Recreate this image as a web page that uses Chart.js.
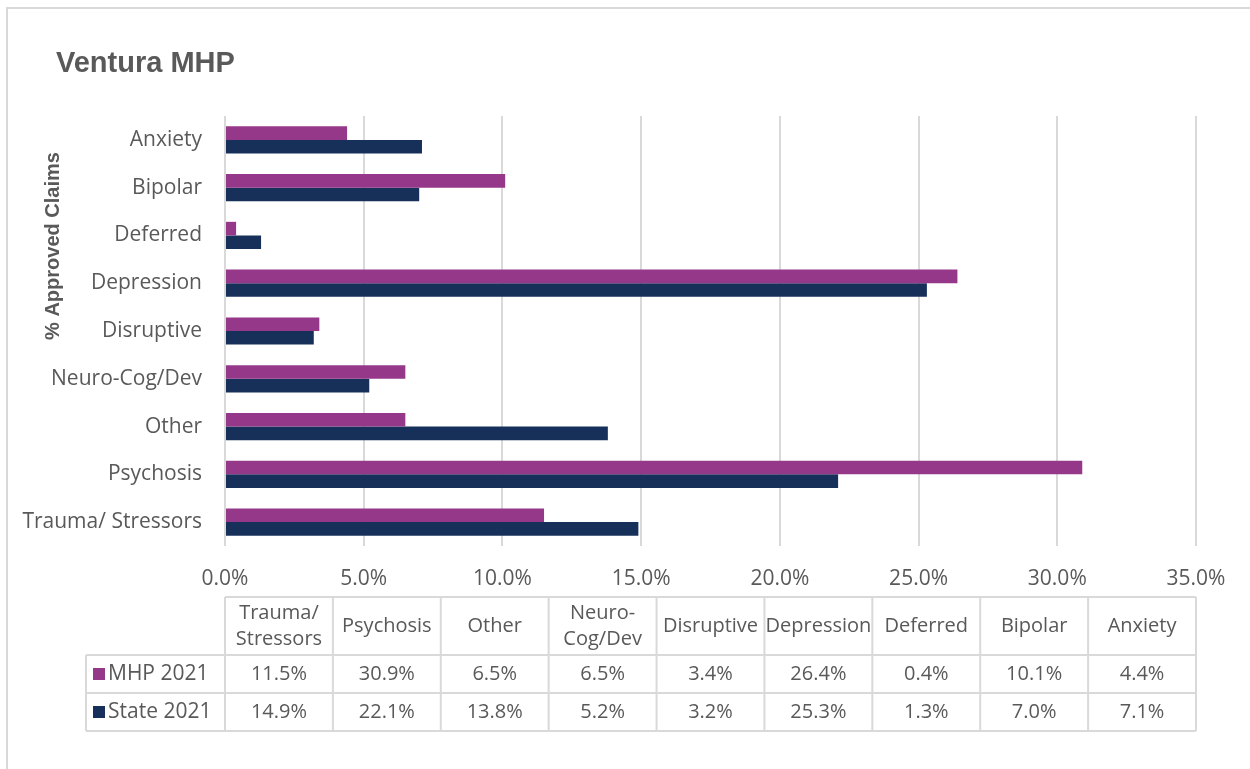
<!DOCTYPE html>
<html>
<head>
<meta charset="utf-8">
<title>Ventura MHP</title>
<script src="https://cdn.jsdelivr.net/npm/chart.js@4"></script>
<style>
    html, body { margin: 0; padding: 0; background: #fff; overflow: hidden; }
    #frame {
        position: absolute; left: 6px; top: 7px;
        width: 1400px; height: 900px;
        border: 2px solid #d9d9d9;
    }
    #wrap { position: absolute; left: 0; top: 0; width: 1250px; height: 769px; }
</style>
</head>
<body>
<div id="frame"></div>
<div id="wrap"><canvas id="chart" width="1250" height="769"></canvas></div>

<script>
// Chart data
const categories = ['Anxiety', 'Bipolar', 'Deferred', 'Depression', 'Disruptive',
    'Neuro-Cog/Dev', 'Other', 'Psychosis', 'Trauma/ Stressors'];
const mhp2021 = [4.4, 10.1, 0.4, 26.4, 3.4, 6.5, 6.5, 30.9, 11.5];
const state2021 = [7.1, 7.0, 1.3, 25.3, 3.2, 5.2, 13.8, 22.1, 14.9];
const xTicks = [0, 5, 10, 15, 20, 25, 30, 35];

// Data table below the chart (Excel lists the categories in reverse)
const tableHeaders = [['Trauma/', 'Stressors'], ['Psychosis'], ['Other'], ['Neuro-', 'Cog/Dev'],
    ['Disruptive'], ['Depression'], ['Deferred'], ['Bipolar'], ['Anxiety']];
const seriesNames = ['MHP 2021', 'State 2021'];

const MHP_COLOR = '#963889';
const STATE_COLOR = '#17305A';
const TEXT_COLOR = '#595959';
const LINE_COLOR = '#d9d9d9';
const FONT = '"Open Sans", "Noto Sans", sans-serif';

// Title, rotated axis title and data table
const decorPlugin = {
    id: 'decor',
    afterDraw(chart) {
        const ctx = chart.ctx;
        const area = chart.chartArea;
        ctx.save();

        // chart title
        ctx.fillStyle = TEXT_COLOR;
        ctx.font = 'bold 29px "Liberation Sans", Arial, sans-serif';
        ctx.textAlign = 'left';
        ctx.textBaseline = 'middle';
        ctx.fillText('Ventura MHP', 56, 64);

        // vertical axis title
        ctx.save();
        ctx.translate(53, area.top + 130);
        ctx.rotate(-Math.PI / 2);
        ctx.font = 'bold 20px "Liberation Sans", Arial, sans-serif';
        ctx.textAlign = 'center';
        ctx.fillText('% Approved Claims', 0, 0);
        ctx.restore();

        // data table
        const n = tableHeaders.length;
        const colW = (area.right - area.left) / n;
        const top = area.bottom + 51;
        const headH = 58;
        const rowH = 38;
        const legendLeft = 86;
        const rows = [
            mhp2021.slice().reverse(),
            state2021.slice().reverse()
        ];
        const colors = [MHP_COLOR, STATE_COLOR];

        ctx.strokeStyle = LINE_COLOR;
        ctx.lineWidth = 2;
        ctx.beginPath();
        ctx.moveTo(area.left, top);
        ctx.lineTo(area.right, top);
        for (let r = 0; r <= rows.length; r++) {
            const y = top + headH + r * rowH;
            ctx.moveTo(legendLeft, y);
            ctx.lineTo(area.right, y);
        }
        for (let i = 0; i <= n; i++) {
            const x = area.left + i * colW;
            ctx.moveTo(x, top);
            ctx.lineTo(x, top + headH + rows.length * rowH);
        }
        ctx.moveTo(legendLeft, top + headH);
        ctx.lineTo(legendLeft, top + headH + rows.length * rowH);
        ctx.stroke();

        ctx.fillStyle = TEXT_COLOR;
        ctx.font = '20px ' + FONT;
        ctx.textAlign = 'center';
        ctx.textBaseline = 'middle';
        tableHeaders.forEach((lines, i) => {
            const cx = area.left + (i + 0.5) * colW;
            const cy = top + headH / 2;
            lines.forEach((line, j) => {
                ctx.fillText(line, cx, cy + (j - (lines.length - 1) / 2) * 26);
            });
        });

        rows.forEach((vals, r) => {
            const cy = top + headH + (r + 0.5) * rowH;
            ctx.textAlign = 'center';
            ctx.fillStyle = TEXT_COLOR;
            ctx.font = '20px ' + FONT;
            vals.forEach((v, i) => {
                ctx.fillText(v.toFixed(1) + '%', area.left + (i + 0.5) * colW, cy);
            });
            // legend key
            ctx.fillStyle = colors[r];
            ctx.fillRect(legendLeft + 7, cy - 6, 12, 12);
            ctx.fillStyle = TEXT_COLOR;
            ctx.textAlign = 'left';
            ctx.font = '21px ' + FONT;
            ctx.fillText(seriesNames[r], legendLeft + 22, cy);
        });

        ctx.restore();
    }
};

const ctx = document.getElementById('chart').getContext('2d');
new Chart(ctx, {
    type: 'bar',
    data: {
        labels: categories,
        datasets: [
            {
                label: seriesNames[0],
                data: mhp2021,
                backgroundColor: MHP_COLOR,
                borderWidth: 0
            },
            {
                label: seriesNames[1],
                data: state2021,
                backgroundColor: STATE_COLOR,
                borderWidth: 0
            }
        ]
    },
    options: {
        indexAxis: 'y',
        responsive: false,
        animation: false,
        datasets: {
            bar: { categoryPercentage: 0.57, barPercentage: 1 }
        },
        layout: {
            padding: { top: 116, right: 54, bottom: 0, left: 0 }
        },
        plugins: {
            legend: { display: false },
            tooltip: { enabled: false },
            title: { display: false }
        },
        scales: {
            x: {
                min: xTicks[0],
                max: xTicks[xTicks.length - 1],
                afterBuildTicks: (scale) => {
                    scale.ticks = xTicks.map(v => ({ value: v }));
                },
                afterFit: (scale) => { scale.height = 223; },
                grid: {
                    color: LINE_COLOR,
                    lineWidth: 2,
                    drawTicks: false
                },
                border: { display: false },
                ticks: {
                    color: TEXT_COLOR,
                    font: { family: FONT, size: 21 },
                    padding: 20,
                    callback: (value) => value.toFixed(1) + '%'
                }
            },
            y: {
                afterFit: (scale) => { scale.width = 225; },
                grid: { display: false, drawTicks: false },
                border: { display: false },
                ticks: {
                    color: TEXT_COLOR,
                    font: { family: FONT, size: 21 },
                    padding: 23
                }
            }
        }
    },
    plugins: [decorPlugin]
});
</script>
</body>
</html>
